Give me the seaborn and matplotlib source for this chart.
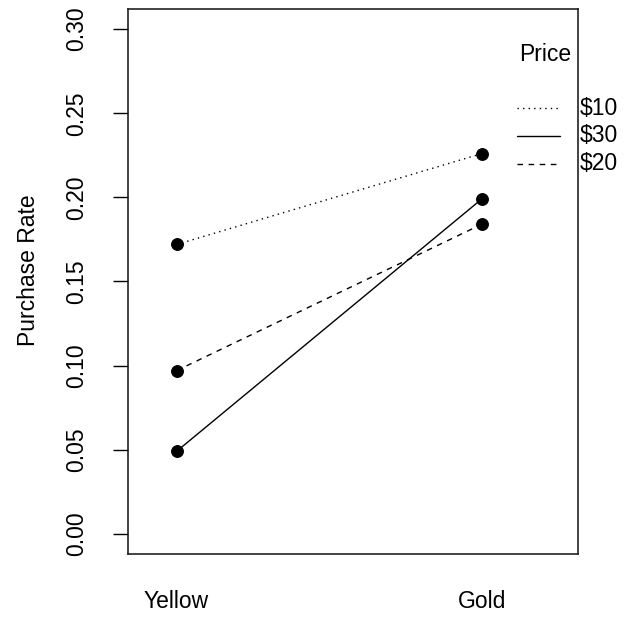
import matplotlib
matplotlib.use("Agg")
import matplotlib.pyplot as plt
import seaborn as sns
import pandas as pd

# Mean purchase rate for each colour / price combination
colors = ["Yellow", "Gold"]
price_levels = ["$10", "$20", "$30"]
rate_10 = [0.172, 0.226]
rate_20 = [0.097, 0.184]
rate_30 = [0.049, 0.199]
y_ticks = [0.00, 0.05, 0.10, 0.15, 0.20, 0.25, 0.30]

line_styles = {"$10": (0, (1, 3)), "$20": (0, (4, 4)), "$30": "-"}

df = pd.DataFrame({
    "Color": colors * 3,
    "Price": [p for p in price_levels for _ in colors],
    "Rate": rate_10 + rate_20 + rate_30,
})

sns.set_style("white")
plt.rcParams["font.family"] = ["Liberation Sans", "DejaVu Sans"]
plt.rcParams["font.size"] = 16.5
plt.rcParams["text.color"] = "black"
plt.rcParams["axes.labelcolor"] = "black"
plt.rcParams["xtick.color"] = "black"
plt.rcParams["ytick.color"] = "black"

FS = 16.5

fig = plt.figure(figsize=(6.34, 6.19), dpi=100)
ax = fig.add_axes([0.2019, 0.105, 0.709, 0.8805])

for price in price_levels:
    sub = df[df["Price"] == price]
    sns.pointplot(data=sub, x="Color", y="Rate", order=colors, color="black",
                  errorbar=None, markers="o", linestyles="-", ax=ax,
                  markersize=8.5, linewidth=1.0)
    ax.lines[-1].set_linestyle(line_styles[price])

ax.set_xlim(-0.159, 1.314)
ax.set_ylim(-0.012, 0.312)
ax.set_yticks(y_ticks)
ax.set_yticklabels([f"{t:.2f}" for t in y_ticks], rotation=90, va="center")
ax.tick_params(axis="y", length=11, width=1, pad=17.5, labelsize=FS, colors="black", left=True)
ax.tick_params(axis="x", length=0, pad=26, labelsize=FS, colors="black")
ax.set_xlabel("")
ax.set_ylabel("Purchase Rate", fontsize=FS, color="black")
ax.yaxis.set_label_coords(-0.195, 0.52)
for s in ax.spines.values():
    s.set_visible(True)
    s.set_color("#222222")
    s.set_linewidth(1.2)

# Legend: levels ordered by their value at the last colour, highest first
last = {p: df[(df["Price"] == p) & (df["Color"] == colors[-1])]["Rate"].iloc[0] for p in price_levels}
order = sorted(price_levels, key=lambda p: -last[p])
ax.text(0.928, 0.9156, "Price", transform=ax.transAxes, ha="center", va="center", fontsize=FS)
for i, p in enumerate(order):
    yy = 0.818 - i * 0.0508
    ax.plot([0.865, 0.961], [yy, yy], transform=ax.transAxes, color="black",
            linewidth=1.0, linestyle=line_styles[p], clip_on=False)
    ax.text(1.006, yy, p, transform=ax.transAxes, ha="left", va="center", fontsize=FS)

fig.savefig("out.png", dpi=100)
